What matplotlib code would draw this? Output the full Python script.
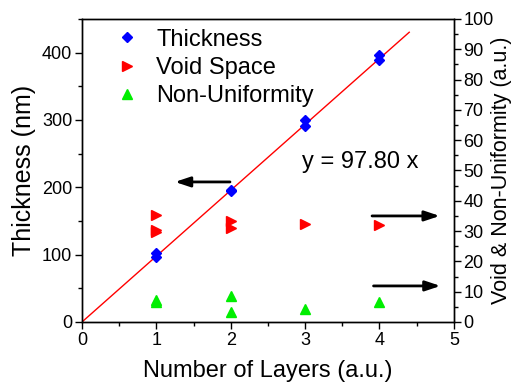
import matplotlib.pyplot as plt
import numpy as np
from matplotlib.ticker import MultipleLocator

plt.rcParams['font.family'] = ['Liberation Sans', 'DejaVu Sans']

# layer count for each measurement
layers_thick = [1, 1, 2, 2, 3, 3, 4, 4]
thickness = [103, 96, 196, 194, 300, 291, 397, 389]

layers_void = [1, 1, 1, 2, 2, 3, 4]
void_space = [35.3, 30.4, 29.7, 33.2, 31.1, 32.2, 31.9]

layers_nonuni = [1, 1, 2, 2, 3, 4]
non_uniformity = [7.3, 6.6, 8.6, 3.2, 4.3, 6.7]

slope = 97.80
fit_x = np.array([0, 4.4])

fig = plt.figure(figsize=(5.14, 3.9), dpi=100)
ax = fig.add_axes([0.1595, 0.1744, 0.7235, 0.7769])
ax2 = ax.twinx()

ax.plot(fit_x, slope * fit_x, color='red', lw=1, zorder=2)
h1, = ax.plot(layers_thick, thickness, 'D', color='blue', ms=5, ls='none',
              label='Thickness', zorder=3)
h2, = ax2.plot(layers_void, void_space, '>', color='red', ms=7, ls='none',
               label='Void Space')
h3, = ax2.plot(layers_nonuni, non_uniformity, '^', color='#00ee00', ms=7,
               ls='none', label='Non-Uniformity')

ax.set_xlim(0, 5)
ax.set_ylim(0, 450)
ax2.set_ylim(0, 100)

ax.xaxis.set_major_locator(MultipleLocator(1))
ax.xaxis.set_minor_locator(MultipleLocator(0.5))
ax.yaxis.set_major_locator(MultipleLocator(100))
ax.yaxis.set_minor_locator(MultipleLocator(50))
ax2.yaxis.set_major_locator(MultipleLocator(10))
ax2.yaxis.set_minor_locator(MultipleLocator(5))

for a in (ax, ax2):
    a.tick_params(which='major', direction='out', length=5, width=1,
                  labelsize=13, pad=2)
    a.tick_params(which='minor', direction='out', length=3, width=1)
    for s in a.spines.values():
        s.set_linewidth(1)

ax.set_xlabel('Number of Layers (a.u.)', fontsize=17, labelpad=8)
ax.set_ylabel('Thickness (nm)', fontsize=18, labelpad=4)
ax2.set_ylabel('Void & Non-Uniformity (a.u.)', fontsize=15.5,
               rotation=90, va='center', ha='center')
ax2.yaxis.set_label_coords(1.128, 0.5)

ax.text(2.96, 238, 'y = 97.80 x', fontsize=17, va='center', ha='left')

# arrows pointing to the axis each series belongs to
arrow = dict(arrowstyle='-|>,head_length=0.9,head_width=0.3', color='black',
             lw=2, shrinkA=0, shrinkB=0)
ax.annotate('', xy=(1.25, 208), xytext=(1.99, 208), arrowprops=arrow)
ax2.annotate('', xy=(4.81, 35), xytext=(3.9, 35), arrowprops=arrow)
ax2.annotate('', xy=(4.82, 11.9), xytext=(3.92, 11.9), arrowprops=arrow)

ax2.legend(handles=[h1, h2, h3], loc='upper left', frameon=False,
           fontsize=17, bbox_to_anchor=(0.035, 1.015), handletextpad=0.5,
           labelspacing=0.27, borderaxespad=0.2, handlelength=1.5)

fig.savefig('out.png', dpi=100)
